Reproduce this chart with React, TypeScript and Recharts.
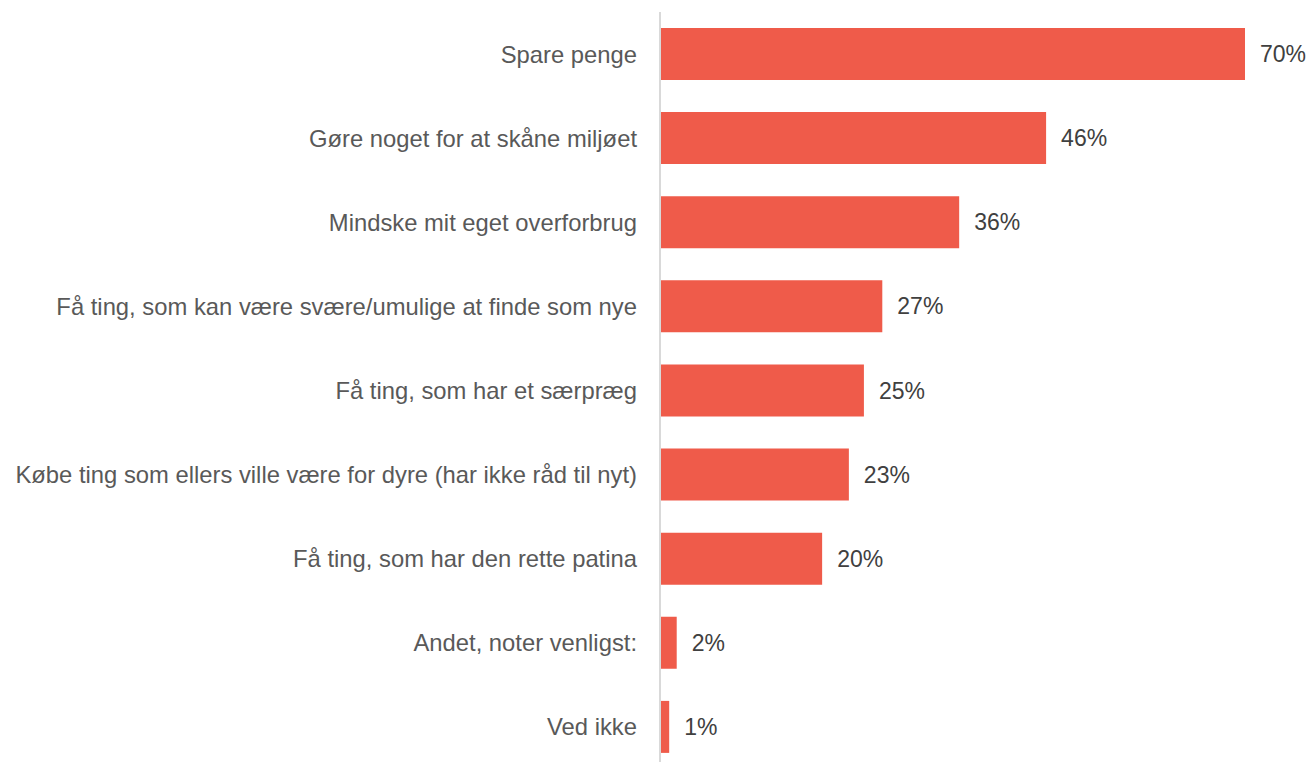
import { Bar, BarChart, LabelList, XAxis, YAxis } from "recharts";

const categories = [
  "Spare penge",
  "Gøre noget for at skåne miljøet",
  "Mindske mit eget overforbrug",
  "Få ting, som kan være svære/umulige at finde som nye",
  "Få ting, som har et særpræg",
  "Købe ting som ellers ville være for dyre (har ikke råd til nyt)",
  "Få ting, som har den rette patina",
  "Andet, noter venligst:",
  "Ved ikke",
];

// bar lengths in percent
const values = [70, 46.2, 35.8, 26.6, 24.4, 22.6, 19.4, 2.0, 1.1];

// the percentages as printed next to the bars
const labels = ["70%", "46%", "36%", "27%", "25%", "23%", "20%", "2%", "1%"];

const data = categories.map((name, i) => ({ name, value: values[i], label: labels[i] }));

const font = "'Liberation Sans', Arial, sans-serif";

export default function App() {
  return (
    <div
      style={{
        position: "fixed",
        top: 0,
        left: 0,
        width: 1314,
        height: 762,
        overflow: "hidden",
        background: "#fff",
        fontFamily: font,
      }}
    >
      <BarChart
        width={1314}
        height={780}
        data={data}
        layout="vertical"
        margin={{ top: 12, right: 69, bottom: 11, left: 0 }}
        barCategoryGap={32}
      >
        <XAxis type="number" domain={[0, 70]} hide />
        <YAxis
          type="category"
          dataKey="name"
          width={660}
          axisLine={{ stroke: "#d9d9d9", strokeWidth: 2 }}
          tickLine={false}
          tickMargin={17}
          interval={0}
          tick={{ fill: "#595959", fontSize: 23.8, fontFamily: font }}
        />
        <Bar dataKey="value" fill="#ef5b4a" barSize={52} isAnimationActive={false}>
          <LabelList
            dataKey="label"
            position="right"
            offset={15}
            style={{ fill: "#404040", fontSize: 23, fontFamily: font }}
          />
        </Bar>
      </BarChart>
    </div>
  );
}
